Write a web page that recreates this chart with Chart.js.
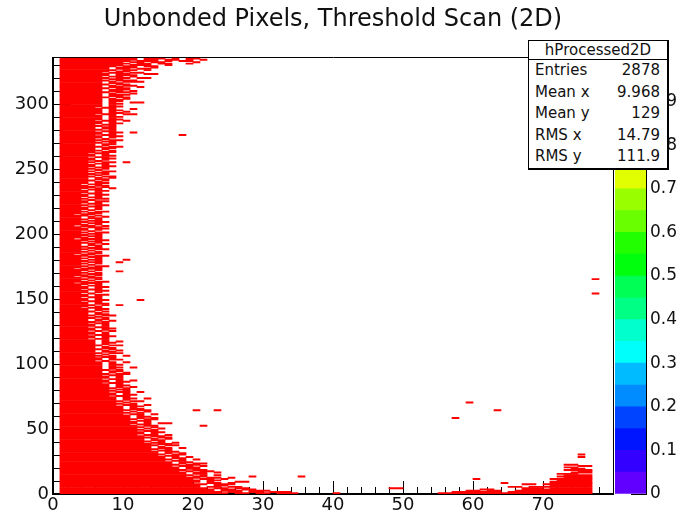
<!DOCTYPE html>
<html lang="en">
<head>
<meta charset="UTF-8">
<title>Unbonded Pixels, Threshold Scan (2D)</title>
<script src="https://cdn.jsdelivr.net/npm/chart.js"></script>
<style>
  html, body { margin: 0; padding: 0; background: #fff; }
  #wrap { position: relative; width: 681px; height: 511px; overflow: hidden; }
  #wrap canvas { position: absolute; left: 0; top: 0; }
  #stats {
    position: absolute; left: 528px; top: 40px; width: 141px; height: 130px;
    box-sizing: border-box; background: #fff;
    border: 1px solid #000; border-right-width: 2px; border-bottom-width: 2px;
    font-family: "DejaVu Sans", sans-serif; font-size: 15px; color: #111;
  }
  #stats .head { height: 18px; line-height: 18px; text-align: center; border-bottom: 1px solid #000; }
  #stats .row { display: flex; justify-content: space-between; height: 21.6px; line-height: 21.6px; padding: 0 7px 0 6px; }
</style>
</head>
<body>
<div id="wrap">
  <canvas id="mapChart" width="681" height="511"></canvas>
  <canvas id="paletteChart" width="681" height="511"></canvas>
  <div id="stats">
    <div class="head">hProcessed2D</div>
    <div class="row"><span>Entries</span><span>2878</span></div>
    <div class="row"><span>Mean x</span><span>9.968</span></div>
    <div class="row"><span>Mean y</span><span>129</span></div>
    <div class="row"><span>RMS x</span><span>14.79</span></div>
    <div class="row"><span>RMS y</span><span>111.9</span></div>
  </div>
</div>

<script>
// last column of the solid red block in each row (row 0 .. 335), block starts at column 1
const rowEdge = [
  24,23,22,22,21,20,20,21,19,20,   // 0-9
  20,19,20,18,19,18,18,17,18,17,   // 10-19
  17,16,17,16,16,15,16,15,15,14,   // 20-29
  15,14,14,13,14,13,13,14,13,12,   // 30-39
  13,12,12,13,12,11,12,12,11,12,   // 40-49
  11,12,11,10,11,11,10,11,10,10,   // 50-59
  10,9,10,9,10,9,9,9,8,9,          // 60-69
  8,9,8,8,8,7,8,8,7,8,             // 70-79
  7,8,7,7,7,6,7,7,6,7,             // 80-89
  7,6,7,6,6,7,6,6,6,6,             // 90-99
  6,6,5,6,6,5,6,5,6,5,             // 100-109
  5,6,5,5,6,5,5,5,5,4,             // 110-119
  5,5,4,5,5,4,5,5,4,5,             // 120-129
  5,4,5,4,4,5,4,5,4,4,             // 130-139
  5,4,4,3,4,5,4,4,3,4,             // 140-149
  4,3,4,4,3,4,4,3,4,4,             // 150-159
  3,4,2,4,3,4,3,2,4,3,             // 160-169
  4,3,4,2,3,4,3,4,3,4,             // 170-179
  3,4,3,4,2,3,4,3,4,3,             // 180-189
  4,3,3,4,3,4,2,4,3,4,             // 190-199
  3,4,3,4,4,3,2,4,3,4,             // 200-209
  3,4,3,3,4,2,3,4,3,4,             // 210-219
  4,3,4,3,4,4,3,4,3,4,             // 220-229
  4,3,4,4,3,4,5,4,3,4,             // 230-239
  4,5,4,4,5,4,5,4,5,4,             // 240-249
  5,4,5,5,4,5,4,5,5,4,             // 250-259
  5,5,4,5,6,5,5,6,5,5,             // 260-269
  6,5,6,5,6,6,5,6,6,5,             // 270-279
  6,5,5,6,5,6,6,5,6,6,             // 280-289
  6,6,5,6,6,6,6,5,6,6,             // 290-299
  6,6,6,6,6,7,6,6,6,7,             // 300-309
  6,6,7,6,6,7,6,6,7,6,             // 310-319
  7,6,7,7,6,7,8,7,7,8,             // 320-329
  9,10,9,10,11,11                  // 330-335
];

// red dashes outside the solid block: [row, first column, last column]
const extraRuns = [
  [0,26,27],[0,29,30],[0,32,34],[0,40,40],[0,55,56],[0,57,63],[0,64,76],
  [1,25,26],[1,28,29],[1,31,33],[1,57,60],[1,61,63],[1,65,66],[1,67,76],
  [2,24,26],[2,28,30],[2,59,60],[2,62,63],[2,66,70],[2,71,76],
  [3,24,25],[3,27,28],[3,61,62],[3,67,70],[3,71,76],
  [4,23,24],[4,26,27],[4,48,49],[4,67,69],[4,71,74],[4,75,76],
  [5,22,23],[5,25,26],[5,65,66],[5,68,70],[5,71,76],
  [6,23,24],[6,71,73],[6,74,76],
  [7,23,25],[7,67,68],[7,70,71],[7,72,76],
  [8,22,23],[8,25,25],[8,64,64],[8,71,72],[8,73,76],
  [9,22,22],[9,26,27],[9,71,76],
  [10,22,23],[10,72,73],[10,74,76],
  [11,21,22],[11,24,24],[11,60,60],[11,71,72],[11,73,76],
  [12,22,23],[12,25,25],[12,73,76],
  [13,20,21],[13,28,28],[13,35,35],[13,72,74],[13,75,76],
  [14,21,21],[14,23,23],[14,73,76],
  [15,20,21],[15,72,72],[15,73,74],
  [16,20,21],[16,23,23],[16,74,76],
  [17,19,19],[17,21,22],[17,75,76],
  [18,20,21],[18,73,74],[18,75,76],
  [19,19,20],[19,74,75],
  [20,19,20],[20,73,74],
  [21,18,19],[21,21,21],[21,75,76],
  [22,19,20],[22,73,74],
  [23,18,18],[23,20,21],
  [24,18,19],[25,17,18],[26,18,18],[26,20,20],[27,17,18],
  [28,17,17],[28,19,19],[28,75,75],[29,16,17],
  [30,17,18],[30,75,75],[31,16,16],[31,18,18],[32,16,17],[33,15,16],[34,16,16],
  [35,15,16],[35,18,18],[36,15,15],[37,16,17],[38,15,16],[39,14,15],[39,17,17],
  [40,15,15],[41,14,15],[42,14,14],[42,16,16],[43,15,16],[44,14,15],
  [45,13,14],[45,16,16],[46,14,14],[47,14,15],[48,13,14],[49,14,14],
  [50,13,13],[50,15,15],[51,14,14],[52,13,14],[52,21,21],[53,12,13],
  [54,13,13],[54,15,16],[55,13,13],[56,12,13],[57,13,14],
  [58,12,12],[58,14,14],[58,57,57],[59,12,13],
  [60,12,12],[61,11,12],[61,14,14],[62,12,12],[63,11,11],[63,13,13],
  [64,12,13],[64,20,20],[64,23,23],[64,63,63],[65,11,12],[66,11,11],
  [67,11,12],[68,10,11],[68,13,13],[69,11,11],
  [70,10,10],[70,59,59],[71,11,12],[72,10,10],[73,10,11],[73,13,13],[74,10,10],
  [75,9,10],[76,10,11],[77,10,10],[78,9,10],[78,12,12],[79,10,10],
  [80,9,10],[81,10,10],[82,9,9],[82,11,11],[83,9,10],[84,9,9],[85,8,9],
  [86,9,10],[87,9,9],[87,11,11],[88,8,9],[89,9,9],
  [90,9,9],[91,8,9],[92,9,10],[93,8,8],[93,10,10],[94,8,9],[95,9,9],
  [96,8,8],[97,8,9],[97,11,11],[98,8,8],[99,8,9],
  [100,8,8],[101,8,8],[101,10,10],[102,7,7],[103,8,9],[104,8,8],[105,7,8],
  [106,8,8],[106,10,10],[107,7,7],[108,8,9],[109,7,8],
  [110,7,7],[110,9,9],[111,8,8],[112,7,8],[113,7,7],[114,8,9],[115,7,7],
  [116,7,8],[117,7,7],[117,9,9],[118,7,7],[119,6,7],
  [120,7,7],[121,7,8],[122,6,7],[123,7,7],[124,7,7],[125,6,6],[125,8,8],
  [126,7,7],[127,7,8],[128,6,7],[129,7,7],
  [130,7,7],[131,6,7],[132,7,7],[133,6,6],[133,8,8],[134,6,7],[135,7,7],
  [136,6,6],[137,7,8],[138,6,7],[139,6,6],
  [140,7,7],[141,6,6],[142,6,7],[143,5,6],[144,6,6],[145,7,7],[145,9,9],
  [146,6,7],[147,6,6],[148,5,6],[149,6,7],[149,12,12],
  [150,6,6],[151,5,6],[152,6,6],[153,6,7],[154,5,5],[154,77,77],[155,6,6],
  [156,6,7],[157,5,6],[158,6,6],[159,6,7],
  [160,5,6],[161,6,6],[162,4,6],[163,6,7],[164,5,5],[165,6,6],[165,77,77],
  [166,5,6],[167,4,5],[168,6,6],[169,5,6],
  [170,6,6],[171,5,5],[171,9,9],[172,6,6],[173,4,6],[174,5,6],[175,6,7],
  [176,5,5],[177,6,6],[178,5,6],[178,9,9],[179,6,6],
  [180,5,6],[180,10,10],[181,6,6],[182,5,6],[183,6,7],[184,4,5],[185,5,6],
  [186,6,6],[187,5,5],[188,6,7],[189,5,6],
  [190,6,6],[191,5,6],[192,5,5],[192,7,7],[193,6,6],[194,5,6],[195,6,7],
  [196,4,6],[197,6,6],[198,5,6],[199,6,6],
  [200,5,6],[201,6,7],[202,5,5],[203,6,6],[204,6,7],[205,5,6],[206,4,5],
  [206,7,7],[207,6,6],[208,5,6],[209,6,7],
  [210,5,6],[211,6,6],[212,5,6],[213,5,5],[213,7,7],[214,6,6],[215,4,5],
  [216,5,6],[217,6,7],[218,5,5],[219,6,6],
  [220,6,6],[221,5,6],[222,6,7],[223,5,6],[224,6,6],[225,6,7],[226,5,5],
  [227,6,7],[228,5,6],[229,6,6],
  [230,6,7],[231,5,6],[232,6,6],[233,6,7],[234,5,6],[235,6,6],[235,8,8],
  [236,7,7],[237,6,7],[238,5,6],[239,6,7],
  [240,6,6],[241,7,7],[242,6,7],[243,6,6],[243,8,8],[244,7,8],[245,6,6],
  [246,7,7],[247,6,7],[248,7,8],[249,6,6],
  [250,7,7],[251,6,7],[252,7,8],[253,7,7],[254,6,7],[255,7,8],[255,10,10],
  [256,6,6],[257,7,7],[258,7,8],[259,6,7],
  [260,7,8],[261,7,7],[262,6,7],[263,7,8],[264,8,8],[265,7,7],[266,7,8],
  [267,8,9],[268,7,7],[269,7,8],
  [270,8,8],[271,7,8],[272,8,9],[273,7,7],[274,8,8],[275,8,9],[276,7,8],
  [276,18,18],[277,8,8],[278,8,9],[278,11,11],[279,7,8],
  [280,8,8],[281,7,8],[282,7,8],[283,8,8],[284,7,8],[285,8,9],[286,8,8],
  [287,7,8],[287,10,10],[288,8,9],[289,8,8],
  [290,8,9],[291,8,8],[292,7,8],[292,10,11],[293,8,9],[294,8,8],[294,10,10],
  [295,8,9],[296,8,8],[296,11,11],[297,7,8],[298,8,9],[299,8,8],
  [300,8,9],[301,8,8],[301,11,12],[302,8,9],[303,8,9],[304,8,8],[304,10,10],
  [305,9,10],[306,8,9],[307,8,10],[308,8,8],[308,11,11],[309,9,10],
  [310,8,9],[310,11,11],[311,8,10],[312,9,10],[313,8,9],[313,12,12],
  [314,8,8],[314,10,11],[315,9,10],[316,8,9],[317,8,8],[317,10,12],
  [318,9,11],[319,8,9],
  [320,9,10],[320,12,13],[321,8,9],[321,11,11],[322,9,11],[323,9,10],
  [323,13,14],[324,8,9],[324,11,12],[325,9,10],[326,10,11],[326,13,13],
  [327,9,10],[327,12,13],[328,9,11],[328,14,14],[329,10,11],[329,13,14],
  [330,11,13],[330,16,16],[331,12,13],[331,15,16],[331,19,19],
  [332,11,12],[332,14,15],[332,20,20],[333,12,14],[333,16,16],[333,18,19],
  [334,13,14],[334,16,17],[334,19,19],[334,21,21],[335,13,15],[335,17,17],[335,19,20]
];

// colour scale: contour edges and ROOT "pretty palette" colours
const zLevels = [0,0.05,0.1,0.15,0.2,0.25,0.3,0.35,0.4,0.45,0.5,0.55,0.6,0.65,0.7,0.75,0.8,0.85,0.9,0.95,1];
const paletteColors = [
  '#6200ff','#3300ff','#0015ff','#0044ff','#008cff','#00bbff','#00fffb','#00ffcc','#00ff85','#00ff55',
  '#00ff0d','#22ff00','#6aff00','#99ff00','#e1ff00','#ffee00','#ffa600','#ff7700','#ff3000','#ff0000'
];

Chart.defaults.font.family = "'DejaVu Sans', sans-serif";
Chart.defaults.color = '#111';

// every row is one horizontal floating bar, one bin (1 row) high
const mapData = [];
rowEdge.forEach((edge, row) => mapData.push({ y: row + 0.5, x: [1, edge + 1] }));
extraRuns.forEach(([row, c0, c1]) => mapData.push({ y: row + 0.5, x: [c0, c1 + 1] }));

const tickFont = { size: 18, lineHeight: 1 };

// axis that only draws inward tick marks (no labels, no space)
function tickAxis(axis, position, weight, max, step, len) {
  return {
    type: 'linear', axis, position, weight, min: 0, max, offset: false,
    ticks: { stepSize: step, display: false, autoSkip: false, includeBounds: false },
    grid: { drawOnChartArea: false, offset: false, tickLength: -len, tickColor: '#000' },
    border: { display: false },
    afterFit: s => { if (axis === 'x') s.height = 0; else s.width = 0; }
  };
}

new Chart(document.getElementById('mapChart'), {
  type: 'bar',
  data: {
    datasets: [{
      data: mapData,
      backgroundColor: '#ff0000',
      borderWidth: 0,
      barPercentage: 1,
      categoryPercentage: 1
    }]
  },
  options: {
    indexAxis: 'y',
    responsive: false,
    animation: false,
    events: [],
    layout: { padding: { right: 68 } },
    plugins: {
      legend: { display: false },
      tooltip: { enabled: false },
      title: {
        display: true,
        fullSize: false,
        text: 'Unbonded Pixels, Threshold Scan (2D)',
        color: '#111',
        font: { size: 24, weight: 'normal' },
        padding: { top: 5, bottom: 24 }
      }
    },
    scales: {
      x: {
        type: 'linear', axis: 'x', position: 'bottom', weight: 2,
        min: 0, max: 80,
        ticks: { stepSize: 10, autoSkip: false, maxRotation: 0, padding: 2, font: tickFont,
                 callback: v => (v === 80 ? '' : v) },
        grid: { drawOnChartArea: false, drawTicks: false },
        border: { color: '#000', width: 2 },
        afterFit: s => { s.height = 17; }
      },
      xMajor: tickAxis('x', 'bottom', 1, 80, 10, 13),
      xMinor: tickAxis('x', 'bottom', 0, 80, 2, 7),
      xTop: {
        type: 'linear', axis: 'x', position: 'top', weight: 0,
        min: 0, max: 80,
        ticks: { display: false },
        grid: { display: false },
        border: { color: '#000', width: 1 },
        afterFit: s => { s.height = 0; }
      },
      y: {
        type: 'linear', axis: 'y', position: 'left', weight: 2,
        min: 0, max: 336, offset: false,
        ticks: { stepSize: 50, includeBounds: false, autoSkip: false, padding: 4, font: tickFont },
        grid: { drawOnChartArea: false, offset: false, drawTicks: false },
        border: { color: '#000', width: 2 },
        afterFit: s => { s.width = 53; }
      },
      yMajor: tickAxis('y', 'left', 1, 336, 50, 18),
      yMinor: tickAxis('y', 'left', 0, 336, 10, 10),
      yRight: {
        type: 'linear', axis: 'y', position: 'right', weight: 0,
        min: 0, max: 336, offset: false,
        ticks: { display: false },
        grid: { display: false, offset: false },
        border: { color: '#000', width: 1 },
        afterFit: s => { s.width = 0; }
      }
    }
  }
});

// colour bar on the right
new Chart(document.getElementById('paletteChart'), {
  type: 'bar',
  data: {
    labels: ['z'],
    datasets: paletteColors.map((c, k) => ({
      data: [[zLevels[k], zLevels[k + 1]]],
      backgroundColor: c,
      borderWidth: 0,
      grouped: false,
      barPercentage: 1,
      categoryPercentage: 1
    }))
  },
  options: {
    responsive: false,
    animation: false,
    events: [],
    layout: { padding: { left: 615, top: 58, bottom: 17 } },
    plugins: { legend: { display: false }, tooltip: { enabled: false } },
    scales: {
      x: { display: false },
      y: {
        position: 'right', weight: 1, min: 0, max: 1,
        ticks: { stepSize: 0.1, autoSkip: false, padding: 4, font: { size: 17, lineHeight: 1 },
                 callback: v => String(+v.toFixed(1)) },
        grid: { drawOnChartArea: false, drawTicks: false },
        border: { color: '#000', width: 1 },
        afterFit: s => { s.width = 35; }
      },
      zTicks: {
        type: 'linear', axis: 'y', position: 'right', weight: 0, min: 0, max: 1,
        ticks: { stepSize: 0.1, display: false, autoSkip: false },
        grid: { drawOnChartArea: false, tickLength: -15, tickColor: '#000' },
        border: { display: false },
        afterFit: s => { s.width = 0; }
      }
    }
  }
});
</script>
</body>
</html>
